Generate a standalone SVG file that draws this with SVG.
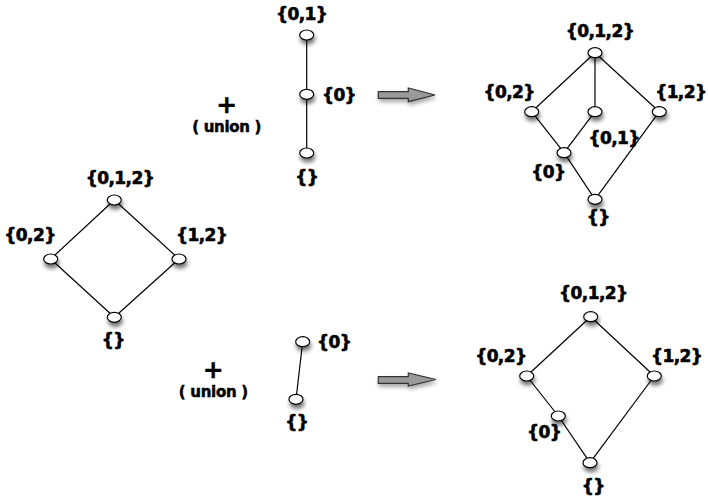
<svg xmlns="http://www.w3.org/2000/svg" width="708" height="502" viewBox="0 0 708 502">
<defs>
<filter id="sh" x="-100%" y="-100%" width="300%" height="400%">
<feGaussianBlur in="SourceAlpha" stdDeviation="2.2"/>
<feOffset dx="1" dy="4" result="b"/>
<feComponentTransfer><feFuncA type="linear" slope="0.55"/></feComponentTransfer>
<feMerge><feMergeNode/><feMergeNode in="SourceGraphic"/></feMerge>
</filter>
<filter id="ash" x="-30%" y="-60%" width="160%" height="260%">
<feGaussianBlur in="SourceAlpha" stdDeviation="2"/>
<feOffset dx="1" dy="3" result="b"/>
<feComponentTransfer><feFuncA type="linear" slope="0.35"/></feComponentTransfer>
<feMerge><feMergeNode/><feMergeNode in="SourceGraphic"/></feMerge>
</filter>
</defs>
<style>
.e{stroke:#000;stroke-width:1.2;fill:none}
.n{fill:#fff;stroke:#000;stroke-width:1.2;filter:url(#sh)}
.t{font-family:"DejaVu Sans",sans-serif;font-weight:bold;font-size:17px;letter-spacing:-0.6px;text-anchor:middle;fill:#000;stroke:#000;stroke-width:0.6}
.u{font-family:"DejaVu Sans",sans-serif;font-weight:bold;font-size:15px;letter-spacing:-0.3px;text-anchor:middle;fill:#000;stroke:#000;stroke-width:0.5}
.p{font-family:"DejaVu Sans",sans-serif;font-weight:bold;font-size:25px;text-anchor:middle;fill:#000;stroke:#000;stroke-width:0.4}
.ar{fill:#9a9a9a;stroke:#333;stroke-width:1.2;filter:url(#ash)}
</style>
<rect width="708" height="502" fill="#fff"/>
<g id="connectors">
<line class="e" x1="306.7" y1="35" x2="306.7" y2="94.3"/>
<line class="e" x1="306.7" y1="94.3" x2="306.7" y2="153"/>
<line class="e" x1="595" y1="52.7" x2="531.7" y2="111.7"/>
<line class="e" x1="595" y1="52.7" x2="595" y2="111.7"/>
<line class="e" x1="595" y1="52.7" x2="659.3" y2="111.7"/>
<line class="e" x1="531.7" y1="111.7" x2="564" y2="152.7"/>
<line class="e" x1="595" y1="111.7" x2="564" y2="152.7"/>
<line class="e" x1="564" y1="152.7" x2="595" y2="199.3"/>
<line class="e" x1="659.3" y1="111.7" x2="595" y2="199.3"/>
<line class="e" x1="114.3" y1="200" x2="50.7" y2="259"/>
<line class="e" x1="114.3" y1="200" x2="179" y2="259"/>
<line class="e" x1="50.7" y1="259" x2="114.3" y2="317.3"/>
<line class="e" x1="179" y1="259" x2="114.3" y2="317.3"/>
<line class="e" x1="302.7" y1="341.7" x2="296" y2="399.3"/>
<line class="e" x1="590.7" y1="316.7" x2="526.7" y2="376"/>
<line class="e" x1="590.7" y1="316.7" x2="654.3" y2="376"/>
<line class="e" x1="526.7" y1="376" x2="558.3" y2="416"/>
<line class="e" x1="558.3" y1="416" x2="590" y2="462.7"/>
<line class="e" x1="654.3" y1="376" x2="590" y2="462.7"/>
</g>
<g id="ops">
<text class="p" x="226.7" y="112.8">+</text>
<text class="u" x="226.7" y="131.7">( union )</text>
<text class="p" x="213.3" y="377.8">+</text>
<text class="u" x="213.3" y="397">( union )</text>
<path id="arrow1" class="ar" d="M378.3,91.7 L408.3,91.7 L408.3,88 L435,95 L408.3,101.7 L408.3,98.3 L378.3,98.3 Z"/>
<path id="arrow2" class="ar" d="M378.3,376.7 L408.3,376.7 L408.3,373 L436,379.5 L408.3,386 L408.3,383.3 L378.3,383.3 Z"/>
</g>
<g id="a01"><ellipse class="n" cx="306.7" cy="35" rx="7" ry="5"/><text class="t" x="301.7" y="20">{0,1}</text></g>
<g id="a0"><ellipse class="n" cx="306.7" cy="94.3" rx="7" ry="5"/><text class="t" x="339" y="101">{0}</text></g>
<g id="ae"><ellipse class="n" cx="306.7" cy="153" rx="7" ry="5"/><text class="t" x="306.7" y="183">{}</text></g>
<g id="r012"><ellipse class="n" cx="595" cy="52.7" rx="7" ry="5"/><text class="t" x="600" y="36.6">{0,1,2}</text></g>
<g id="r02"><ellipse class="n" cx="531.7" cy="111.7" rx="7" ry="5"/><text class="t" x="509.2" y="97.5">{0,2}</text></g>
<g id="r01"><ellipse class="n" cx="595" cy="111.7" rx="7" ry="5"/><text class="t" x="614.2" y="144">{0,1}</text></g>
<g id="r12"><ellipse class="n" cx="659.3" cy="111.7" rx="7" ry="5"/><text class="t" x="680.8" y="97.5">{1,2}</text></g>
<g id="r0"><ellipse class="n" cx="564" cy="152.7" rx="7" ry="5"/><text class="t" x="548.3" y="177.5">{0}</text></g>
<g id="re"><ellipse class="n" cx="595" cy="199.3" rx="7" ry="5"/><text class="t" x="598.3" y="222.5">{}</text></g>
<g id="l012"><ellipse class="n" cx="114.3" cy="200" rx="7" ry="5"/><text class="t" x="120" y="184">{0,1,2}</text></g>
<g id="l02"><ellipse class="n" cx="50.7" cy="259" rx="7" ry="5"/><text class="t" x="30" y="240.8">{0,2}</text></g>
<g id="l12"><ellipse class="n" cx="179" cy="259" rx="7" ry="5"/><text class="t" x="201.7" y="240.8">{1,2}</text></g>
<g id="le"><ellipse class="n" cx="114.3" cy="317.3" rx="7" ry="5"/><text class="t" x="113.3" y="346">{}</text></g>
<g id="b0"><ellipse class="n" cx="302.7" cy="341.7" rx="7" ry="5"/><text class="t" x="334.2" y="348">{0}</text></g>
<g id="be"><ellipse class="n" cx="296" cy="399.3" rx="7" ry="5"/><text class="t" x="296.7" y="427.5">{}</text></g>
<g id="s012"><ellipse class="n" cx="590.7" cy="316.7" rx="7" ry="5"/><text class="t" x="593.3" y="299">{0,1,2}</text></g>
<g id="s02"><ellipse class="n" cx="526.7" cy="376" rx="7" ry="5"/><text class="t" x="500.8" y="361.5">{0,2}</text></g>
<g id="s12"><ellipse class="n" cx="654.3" cy="376" rx="7" ry="5"/><text class="t" x="676.7" y="361.5">{1,2}</text></g>
<g id="s0"><ellipse class="n" cx="558.3" cy="416" rx="7" ry="5"/><text class="t" x="544.2" y="438">{0}</text></g>
<g id="se"><ellipse class="n" cx="590" cy="462.7" rx="7" ry="5"/><text class="t" x="593.3" y="491.5">{}</text></g>
</svg>
